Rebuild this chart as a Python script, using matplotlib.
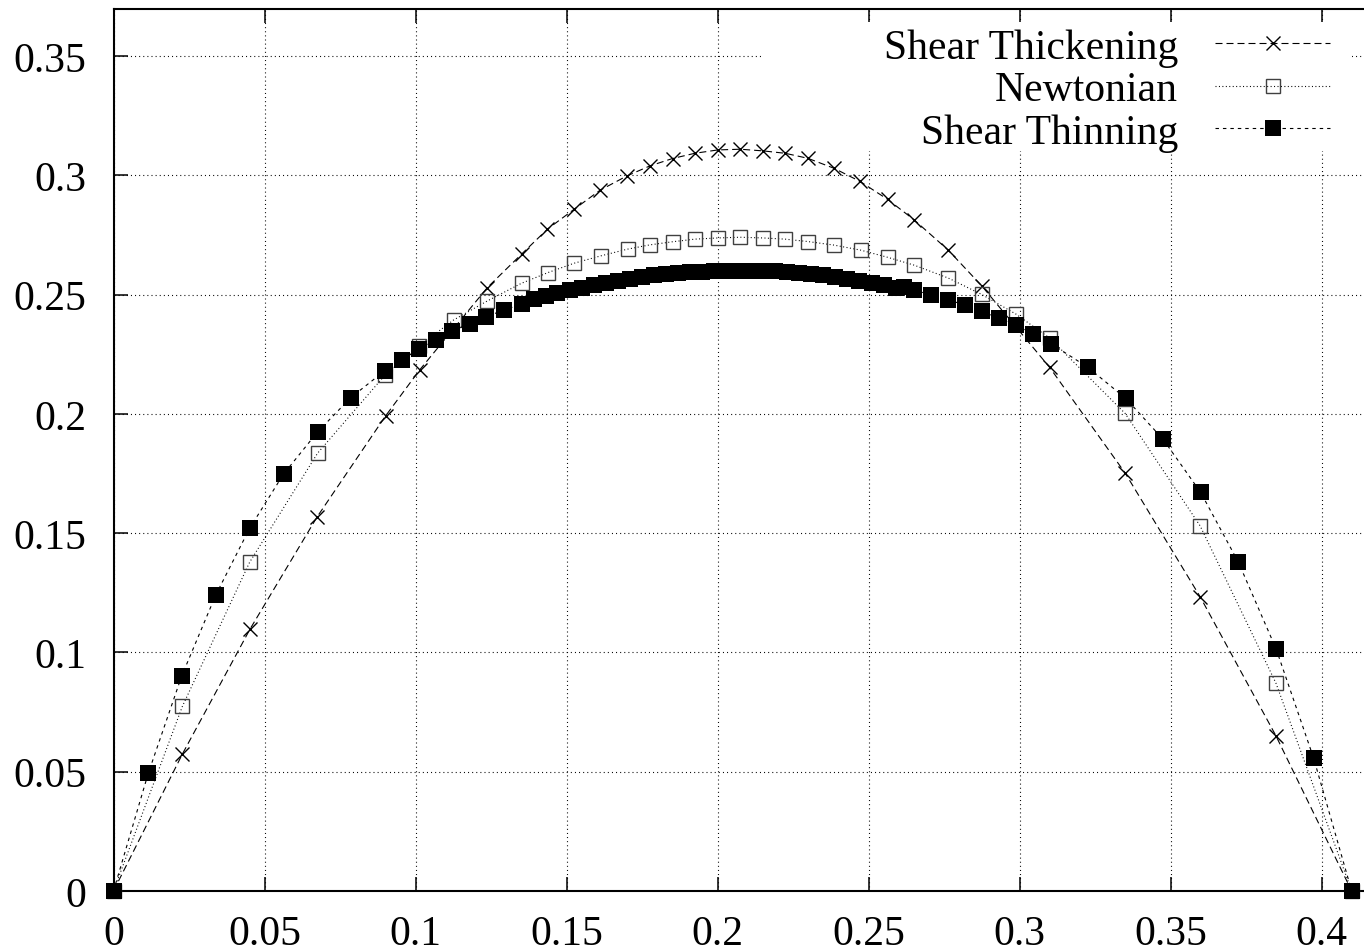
import numpy as np
import matplotlib
matplotlib.use("Agg")
import matplotlib.pyplot as plt
from matplotlib.patches import Rectangle
from matplotlib.ticker import MultipleLocator, FuncFormatter

plt.rcParams["font.family"] = ["Liberation Serif", "DejaVu Serif"]

# shear thickening (crosses)
x_thick = [0, 0.0228, 0.0452, 0.0675, 0.0901, 0.1014, 0.1238, 0.1351, 0.1437,
           0.1525, 0.1611, 0.1700, 0.1776, 0.1851, 0.1925, 0.2001, 0.2075,
           0.2151, 0.2224, 0.2299, 0.2386, 0.2472, 0.2563, 0.2651, 0.2764,
           0.2875, 0.3100, 0.3350, 0.3598, 0.3849, 0.41]
y_thick = [0, 0.0574, 0.1098, 0.1570, 0.1992, 0.2185, 0.2530, 0.2670, 0.2775,
           0.2858, 0.2938, 0.2998, 0.3040, 0.3071, 0.3093, 0.3107, 0.3110,
           0.3103, 0.3093, 0.3072, 0.3030, 0.2975, 0.2900, 0.2814, 0.2687,
           0.2537, 0.2195, 0.1752, 0.1234, 0.0651, 0]

# newtonian (open squares)
x_newt = [0, 0.0228, 0.0451, 0.0676, 0.0899, 0.1013, 0.1126, 0.1238, 0.1351,
          0.1439, 0.1525, 0.1614, 0.1702, 0.1776, 0.1851, 0.1925, 0.2001,
          0.2075, 0.2151, 0.2224, 0.2299, 0.2386, 0.2474, 0.2563, 0.2651,
          0.2764, 0.2875, 0.2988, 0.3100, 0.3350, 0.3598, 0.3849, 0.41]
y_newt = [0, 0.0774, 0.1379, 0.1836, 0.2163, 0.2286, 0.2394, 0.2474, 0.2548,
          0.2593, 0.2632, 0.2663, 0.2691, 0.2709, 0.2722, 0.2733, 0.2738,
          0.2741, 0.2738, 0.2733, 0.2723, 0.2708, 0.2687, 0.2657, 0.2624,
          0.2570, 0.2501, 0.2419, 0.2318, 0.2002, 0.1531, 0.0872, 0]

# shear thinning (filled squares)
x_thin = [0, 0.0115, 0.0226, 0.0339, 0.0451, 0.0563, 0.0676, 0.0786, 0.0898,
          0.0955, 0.1012, 0.1067, 0.1122, 0.1180, 0.1235, 0.1293, 0.1351,
          0.1393, 0.1431, 0.147, 0.151, 0.155, 0.159, 0.163, 0.167, 0.171,
          0.175, 0.179, 0.183, 0.187, 0.191, 0.195, 0.199, 0.203, 0.207,
          0.211, 0.215, 0.219, 0.223, 0.227, 0.231, 0.235, 0.239, 0.243,
          0.247, 0.251, 0.255, 0.259, 0.2616, 0.2651, 0.2706, 0.2764, 0.2820,
          0.2875, 0.2933, 0.2988, 0.3045, 0.3104, 0.3227, 0.3352, 0.3476,
          0.3600, 0.3725, 0.3850, 0.3974, 0.41]
y_thin = [0, 0.0493, 0.0902, 0.1242, 0.1521, 0.1748, 0.1925, 0.2069, 0.2181,
          0.2227, 0.2272, 0.2310, 0.2348, 0.2379, 0.2408, 0.2436, 0.2460,
          0.2481, 0.2495, 0.2508, 0.2519, 0.2530, 0.2540, 0.2549, 0.2558,
          0.2567, 0.2575, 0.2581, 0.2587, 0.2591, 0.2594, 0.2597, 0.2600,
          0.2601, 0.2601, 0.2601, 0.2600, 0.2598, 0.2595, 0.2591, 0.2587,
          0.2581, 0.2575, 0.2567, 0.2559, 0.2549, 0.2539, 0.2529, 0.2534,
          0.2520, 0.2499, 0.2478, 0.2457, 0.2430, 0.2402, 0.2372, 0.2337,
          0.2295, 0.2195, 0.2065, 0.1893, 0.1671, 0.1378, 0.1014, 0.0557, 0]

xticks = [0, 0.05, 0.1, 0.15, 0.2, 0.25, 0.3, 0.35, 0.4]
yticks = [0, 0.05, 0.1, 0.15, 0.2, 0.25, 0.3, 0.35]

W, H = 1364, 953
fig = plt.figure(figsize=(W / 100, H / 100), dpi=100)
# plot frame runs past the right edge of the picture
ax = fig.add_axes([113.5 / W, 61 / H, 0.45 * 3020 / W, 882.5 / H])
ax.set_xlim(0, 0.45)
ax.set_ylim(0, 0.37)
ax.set_axisbelow(True)

ax.plot(x_thick, y_thick, color="black", lw=0.8, ls=(0, (6.3, 3.6)),
        marker="x", ms=10, mew=1.0, clip_on=False, zorder=3,
        label="Shear Thickening")
ax.plot(x_newt, y_newt, color="black", lw=0.8, ls=(0, (0.9, 2.2)),
        marker="s", ms=10, mew=1.0, mfc="none", mec="0.25", clip_on=False,
        zorder=4, label="Newtonian")
ax.plot(x_thin, y_thin, color="black", lw=0.8, ls=(0, (3.1, 3.6)),
        marker="s", ms=11, mew=0, mfc="black", clip_on=False, zorder=5,
        label="Shear Thinning")

ax.set_xticks(xticks)
ax.set_yticks(yticks)
fmt = FuncFormatter(lambda v, p: "%g" % round(v, 4))
ax.xaxis.set_major_formatter(fmt)
ax.yaxis.set_major_formatter(fmt)
ax.tick_params(axis="both", direction="in", length=10, width=1.1,
               labelsize=30, top=True, right=True)
ax.tick_params(axis="x", pad=17)
ax.tick_params(axis="y", pad=19.5)
for s in ax.spines.values():
    s.set_linewidth(1.5)

ax.grid(True, color="black", lw=0.8, ls=(0, (0.9, 2.8)))

# blank area behind the key
ax.add_patch(Rectangle((0.478, 0.8385), 0.9113 - 0.478, 0.9847 - 0.8385,
                       transform=ax.transAxes, facecolor="white",
                       edgecolor="none", zorder=1))

ax.legend(loc="upper right", bbox_to_anchor=(1330 / W, (H - 29) / H),
          bbox_transform=fig.transFigure, frameon=False, markerfirst=False,
          fontsize=30, handlelength=2.75, handletextpad=0.9,
          labelspacing=0.1, borderaxespad=0, borderpad=0)

fig.savefig("out.png", dpi=100)
